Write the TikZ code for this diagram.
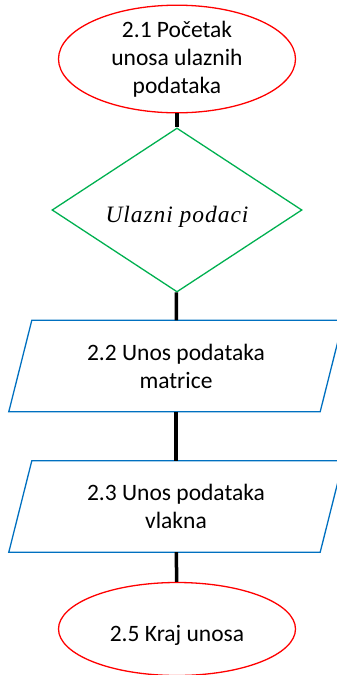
\documentclass[tikz,border=0pt]{standalone}
\usepackage{fontspec}
\setmainfont{Carlito}
\newfontfamily\dfont[LetterSpace=4]{Liberation Serif}
\usetikzlibrary{shapes.geometric}
\definecolor{cred}{RGB}{255,0,0}
\definecolor{cgreen}{RGB}{0,176,80}
\definecolor{cblue}{RGB}{0,112,192}
\tikzset{
  ell/.style={ellipse, draw=cred, line width=1.3pt, minimum width=237pt, minimum height=93pt, inner sep=0pt, align=center, font=\fontsize{23.5}{28}\selectfont},
  dia/.style={diamond, draw=cgreen, line width=1.3pt, minimum width=250pt, minimum height=164pt, inner sep=0pt, font=\dfont\itshape\fontsize{23.5}{28}\selectfont},
  txtbox/.style={rectangle, minimum width=311pt, minimum height=91pt, inner sep=0pt, align=center, font=\fontsize{23.5}{28}\selectfont},
  par/.style={draw=cblue, line width=1.3pt},
  conn/.style={line width=3.5pt, black}
}
\begin{document}
\begin{tikzpicture}[x=1pt,y=-1pt]
\useasboundingbox (0,0) rectangle (337,675);
\node[ell] (start) at (177,59) {2.1 Početak\\unosa ulaznih\\podataka};
\node[dia] (in) at (177,210) {\raisebox{-3pt}[18pt][0pt]{Ulazni podaci}};
\node[txtbox] (p1) at (176,366) {2.2 Unos podataka\\matrice};
\node[txtbox] (p2) at (176,506.5) {2.3 Unos podataka\\vlakna};
\node[ell] (end) at (177,629) {\raisebox{-3pt}[18pt][0pt]{2.5 Kraj unosa}};
\draw[par] ([xshift=-11.5pt]p1.south west) -- ([xshift=-11.5pt]p1.south east) -- ([xshift=11.5pt]p1.north east) -- ([xshift=11.5pt]p1.north west) -- cycle;
\draw[par] ([xshift=-11.5pt]p2.south west) -- ([xshift=-11.5pt]p2.south east) -- ([xshift=11.5pt]p2.north east) -- ([xshift=11.5pt]p2.north west) -- cycle;
\draw[conn] (start) -- (in);
\draw[conn] (in) -- (p1);
\draw[conn] (p1) -- (p2);
\draw[conn] (p2) -- (end);
\end{tikzpicture}
\end{document}
